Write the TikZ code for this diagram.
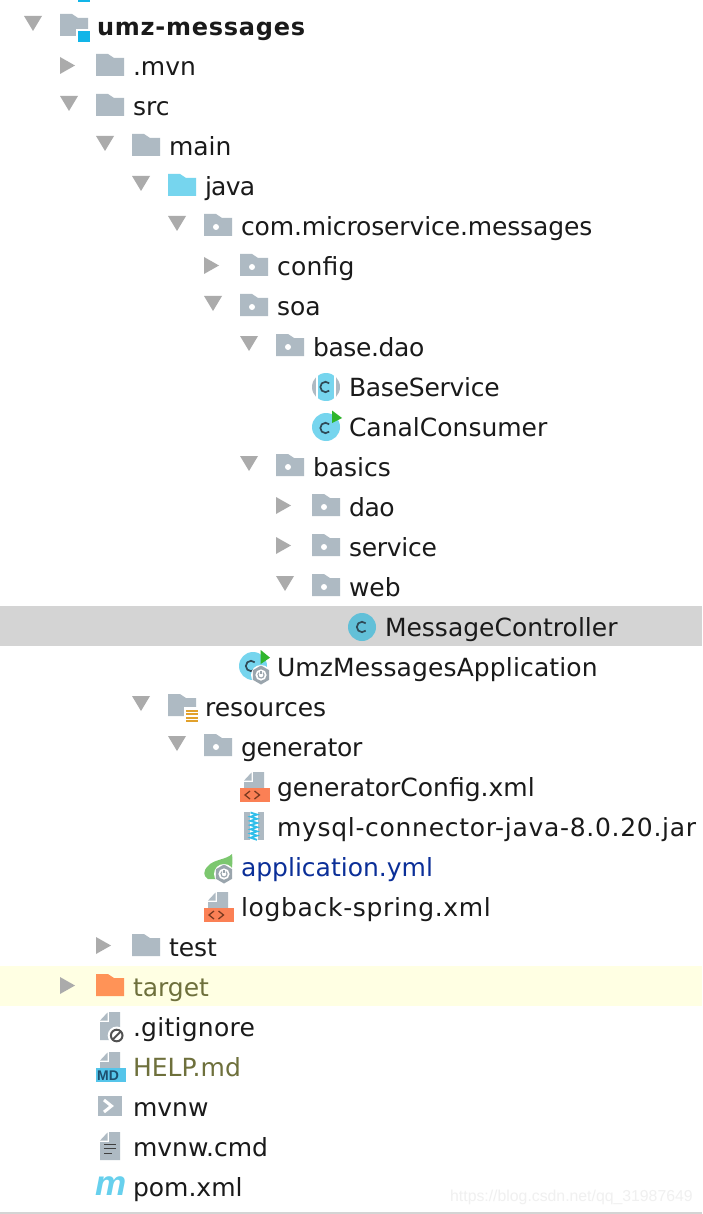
\documentclass[tikz,border=0pt]{standalone}
\usepackage{fontspec}
\setmainfont{DejaVu Sans}
\newfontfamily\markfont{Liberation Sans}
\definecolor{fold}{HTML}{AEBAC3}
\definecolor{tri}{HTML}{ABABAB}
\definecolor{cy}{HTML}{76D5EE}
\definecolor{cysel}{HTML}{62C0D8}
\definecolor{ora}{HTML}{FF9357}
\definecolor{xmlband}{HTML}{FB8055}
\definecolor{xmlmark}{HTML}{7A3A20}
\definecolor{txt}{HTML}{1A1A1A}
\definecolor{sel}{HTML}{D4D4D4}
\definecolor{hl}{HTML}{FFFFE3}
\definecolor{olivet}{HTML}{6E703C}
\definecolor{bluet}{HTML}{0B2F98}
\definecolor{greenr}{HTML}{2FB52C}
\definecolor{leaf}{HTML}{7CC76F}
\definecolor{mdband}{HTML}{55C5EA}
\definecolor{mdtext}{HTML}{1D4F6E}
\definecolor{stack}{HTML}{E2A12C}
\definecolor{cmark}{HTML}{2F4A57}
\definecolor{gearc}{HTML}{9AA5AD}
\definecolor{modbox}{HTML}{12B5E8}
\tikzset{
  x=1pt,y=-1pt,
  lab/.style={anchor=base west,inner sep=0pt,outer sep=0pt,font=\fontsize{25}{25}\selectfont,text=txt},
}
\newcommand{\lsp}[2]{{\addfontfeature{LetterSpace=#1}#2}}
% folder: left x, row y, colour
\newcommand{\fld}[3]{\fill[#3] (#1,#2) ++(0,-13) -- ++(12,0) -- ++(6,4) -- ++(10,0) -- ++(0,18) -- ++(-28,0) -- cycle;}
\newcommand{\pkg}[2]{\fld{#1}{#2}{fold}\fill[white] (#1,#2) ++(12,0) circle (3);}
\newcommand{\tdown}[2]{\fill[tri] (#1,#2) ++(-36,-11) -- ++(18,0) -- ++(-9,15) -- cycle;}
\newcommand{\tright}[2]{\fill[tri] (#1,#2) ++(-36,-10) -- ++(15,8.5) -- ++(-15,8.5) -- cycle;}
\newcommand{\cglyph}[3]{\draw[#3,line width=1.7pt] (#1,#2) ++(3.7,-3.7) arc[start angle=-45,end angle=-315,radius=5.2];}
\newcommand{\gear}[2]{%
  \fill[white] (#1,#2) circle (10);
  \fill[gearc] (#1,#2) ++(0,-9.5) -- ++(8.2,4.75) -- ++(0,9.5) -- ++(-8.2,4.75) -- ++(-8.2,-4.75) -- ++(0,-9.5) -- cycle;
  \fill[white] (#1,#2) circle (5.6);
  \draw[gearc,line width=1.1pt] (#1,#2) ++(2,-2.4) arc[start angle=-50,end angle=230,radius=3.1];
  \draw[gearc,line width=1.1pt] (#1,#2) ++(0,-4) -- ++(0,3.4);}
% page with folded corner: left, top, right, bottom
\newcommand{\foldpage}[4]{%
  \fill[fold] (#1+9,#2) -- (#3,#2) -- (#3,#4) -- (#1,#4) -- (#1,#2+10) -- (#1+9,#2+10) -- cycle;
  \fill[fold] (#1,#2+8.6) -- (#1+7.5,#2+8.6) -- (#1+7.5,#2+0.5) -- cycle;}
\newcommand{\xmlic}[2]{% band left, row y
  \foldpage{#1+4}{#2-15}{#1+24}{#2+1}
  \fill[xmlband] (#1,#2+1) rectangle (#1+30,#2+15);
  \draw[xmlmark,line width=1.3pt] (#1+10,#2+4) -- (#1+5,#2+8) -- (#1+10,#2+12);
  \draw[xmlmark,line width=1.3pt] (#1+14.5,#2+4) -- (#1+19.5,#2+8) -- (#1+14.5,#2+12);}
\begin{document}
\begin{tikzpicture}
\useasboundingbox (0,0) rectangle (702,1214);
\fill[white] (0,0) rectangle (702,1214);
\fill[sel] (0,606) rectangle (702,646);
\fill[hl] (0,966) rectangle (702,1006);
\fill[sel] (0,1212) rectangle (702,1214);
\fill[modbox] (78,0) rectangle (90,2);
% chevrons
\tdown{60}{27}\tright{96}{67}\tdown{96}{107}\tdown{132}{147}\tdown{168}{187}\tdown{204}{227}
\tright{240}{267}\tdown{240}{307}\tdown{276}{347}\tdown{276}{467}
\tright{312}{507}\tright{312}{547}\tdown{312}{587}
\tdown{168}{707}\tdown{204}{747}\tright{132}{947}\tright{96}{987}
% module folder
\fld{60}{27}{fold}
\fill[white] (76,29) rectangle (91,43);
\fill[modbox] (78,31) rectangle (90,42);
% folders
\fld{96}{67}{fold}\fld{96}{107}{fold}\fld{132}{147}{fold}\fld{168}{187}{cy}
\pkg{204}{227}\pkg{240}{267}\pkg{240}{307}\pkg{276}{347}\pkg{276}{467}
\pkg{312}{507}\pkg{312}{547}\pkg{312}{587}\pkg{204}{747}
\fld{132}{947}{fold}\fld{96}{987}{ora}
% resources folder
\fld{168}{707}{fold}
\fill[white] (184,707) rectangle (199,724);
\foreach \yy in {709.5,713,716.5,720}{\fill[stack] (186,\yy) rectangle (198,\yy+2.2);}
% class icons
\begin{scope}
\clip (326,387) circle (14);
\fill[cy] (317.5,373) rectangle (333.5,401);
\fill[fold] (312,373) rectangle (315.5,401);
\fill[fold] (336,373) rectangle (340,401);
\end{scope}
\cglyph{325.5}{387}{cmark}
\fill[cy] (326,427) circle (14);
\cglyph{325.5}{428}{cmark}
\fill[greenr] (332,410.5) -- (342,418) -- (332,423) -- cycle;
\fill[cysel] (362,627) circle (14);
\cglyph{362}{627}{cmark}
\fill[cy] (253,666) circle (14);
\cglyph{251}{666}{cmark}
\gear{261}{675}
\fill[greenr] (260.7,650) -- (270,657.7) -- (260.7,664) -- cycle;
% xml
\xmlic{240}{787}\xmlic{204}{907}
% jar
\fill[fold] (244,812) rectangle (264,840);
\fill[white] (250,812) rectangle (257.5,840);
\draw[modbox!70!cy,line width=1.8pt] (250.5,812.5) \foreach \i in {1,...,13}{ -- ++({mod(\i,2)==1 ? 6.5 : -6.5},2.1)};
% yml
\fill[leaf] (232,854) .. controls (226,860) and (214,859) .. (208,866) .. controls (203,871) and (203,876) .. (208,879) -- (230,879) .. controls (232,870) and (233,862) .. (232,854) -- cycle;
\gear{224}{874}
% gitignore
\foldpage{100}{1012}{120}{1040}
\fill[white] (116.7,1035.5) circle (9);
\draw[black!68,line width=2pt] (116.7,1035.5) circle (5.8);
\draw[black!68,line width=2pt] (112.6,1039.6) -- (120.8,1031.4);
% HELP
\foldpage{100}{1052}{120}{1068}
\fill[mdband] (96,1068) rectangle (126,1082);
\node[anchor=base west,inner sep=0pt,font=\markfont\fontsize{14}{14}\selectfont\bfseries,text=mdtext] (mdmark) at (97,1080.5) {MD};
% mvnw
\fill[fold] (98,1096) rectangle (122,1116);
\draw[white,line width=3pt] (104,1100) -- (111.5,1106) -- (104,1112);
% mvnw.cmd
\foldpage{100}{1132}{120}{1160}
\foreach \yy/\ww in {1144.5/12,1148.5/12,1153.5/8}{\draw[black!75,line width=1.7pt] (104,\yy) -- ++(\ww,0);}
% pom
\node[anchor=base west,inner sep=0pt,text=cy!85!modbox,font=\markfont\fontsize{35}{35}\selectfont\bfseries\itshape] (pomm) at (95,1195) {m};
% labels
\node[lab,font=\fontsize{24}{25}\selectfont\bfseries] (n1) at (97,36) {\lsp{3.2}{umz-messages}};
\node[lab] (n2) at (133,76) {.mvn};
\node[lab] (n3) at (133,116) {src};
\node[lab] (n4) at (169,156) {main};
\node[lab] (n5) at (205,196) {\lsp{-3}{java}};
\node[lab] (n6) at (241,236) {\lsp{-0.5}{com.microservice.messages}};
\node[lab] (n7) at (277,276) {\lsp{1}{config}};
\node[lab] (n8) at (277,316) {soa};
\node[lab] (n9) at (313,356) {\lsp{-1.5}{base.dao}};
\node[lab] (n10) at (349,396) {\lsp{-1}{BaseService}};
\node[lab] (n11) at (349,436) {CanalConsumer};
\node[lab] (n12) at (313,476) {basics};
\node[lab] (n13) at (349,516) {\lsp{-1.5}{dao}};
\node[lab] (n14) at (349,556) {\lsp{-1}{service}};
\node[lab] (n15) at (349,596) {web};
\node[lab] (n16) at (385,636) {MessageController};
\node[lab] (n17) at (277,676) {\lsp{0.5}{UmzMessagesApplication}};
\node[lab] (n18) at (205,716) {resources};
\node[lab] (n19) at (241,756) {\lsp{-1}{generator}};
\node[lab] (n20) at (277,796) {generatorConfig.xml};
\node[lab] (n21) at (277,836) {\lsp{2.8}{mysql-connector-java-8.0.20.jar}};
\node[lab,text=bluet] (n22) at (241,876) {application.yml};
\node[lab] (n23) at (241,916) {\lsp{2.7}{logback-spring.xml}};
\node[lab] (n24) at (169,956) {test};
\node[lab,text=olivet] (n25) at (133,996) {target};
\node[lab] (n26) at (133,1036) {\lsp{1}{.gitignore}};
\node[lab,text=olivet] (n27) at (133,1076) {HELP.md};
\node[lab] (n28) at (133,1116) {mvnw};
\node[lab] (n29) at (133,1156) {mvnw.cmd};
\node[lab] (n30) at (133,1196) {pom.xml};
\node[anchor=base west,inner sep=0pt,font=\markfont\fontsize{15.8}{16}\selectfont,text=black!6] (wm) at (450,1201) {https://blog.csdn.net/qq\_31987649};
\end{tikzpicture}
\end{document}
